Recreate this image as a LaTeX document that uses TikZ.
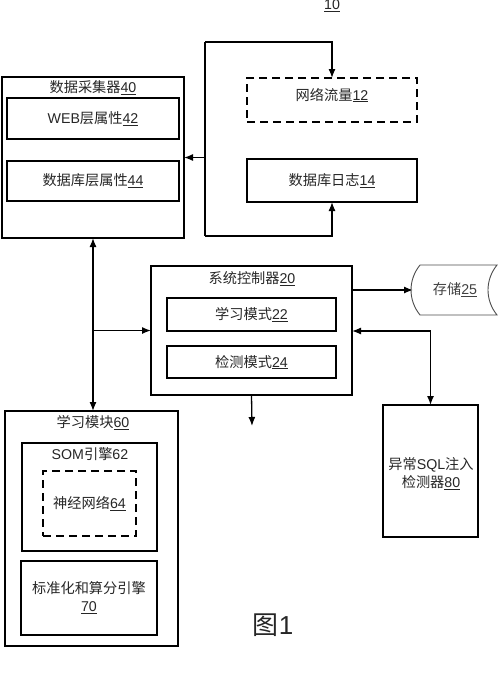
\documentclass[tikz,border=0pt]{standalone}
\usepackage{fontspec}
\setmainfont{Liberation Sans}
\newfontfamily\cjk{Noto Sans CJK SC}
\newcommand{\zh}[1]{{\cjk #1}}
\usetikzlibrary{arrows.meta}
\begin{document}
\begin{tikzpicture}[x=1pt,y=-1pt,
  every node/.style={inner sep=0pt,outer sep=0pt,text=black!85,font=\fontsize{14.2}{18}\selectfont},
  box/.style={draw,line width=1.3pt,rectangle},
  dbox/.style={box,dash pattern=on 8pt off 5pt},
  lbl/.style={align=center},
  conn/.style={line width=1.3pt},
  arr/.style={conn,-{Latex[length=9pt,width=7pt]}},
  darr/.style={conn,{Latex[length=9pt,width=7pt]}-{Latex[length=9pt,width=7pt]}}]
\useasboundingbox (0,0) rectangle (500,694);
% label 10
\node[lbl] (ten) at (332,6) {\underline{10}};
% data collector
\node[box,minimum width=182pt,minimum height=161pt] (dc) at (93,157.5) {};
\node[lbl] (dct) at (93,88) {\zh{数据采集器}\underline{40}};
\node[box,minimum width=172pt,minimum height=41pt] (a42) at (93,118.5) {WEB\zh{层属性}\underline{42}};
\node[box,minimum width=172pt,minimum height=40pt] (a44) at (93,181) {\zh{数据库层属性}\underline{44}};
% sources
\node[dbox,minimum width=170pt,minimum height=44pt] (nt12) at (332,100) {};
\node[lbl] (nt12t) at (332,95) {\zh{网络流量}\underline{12}};
\node[box,minimum width=170pt,minimum height=43pt] (db14) at (332,180.5) {\zh{数据库日志}\underline{14}};
\coordinate (lt) at (205,42);
\coordinate (lb) at (205,236);
\draw[conn] (lt) -- (lb);
\draw[arr] (lt) -| (nt12.north);
\draw[arr] (lb) -| (db14.south);
\draw[arr] (dc.east -| lt) -- (dc.east);
% system controller
\node[box,minimum width=201pt,minimum height=129pt] (sc20) at (251.5,330.5) {};
\node[lbl] (sct) at (252,279) {\zh{系统控制器}\underline{20}};
\node[box,minimum width=169pt,minimum height=33pt] (m22) at (251.5,314.5) {\zh{学习模式}\underline{22}};
\node[box,minimum width=169pt,minimum height=32pt] (m24) at (251.5,362) {\zh{检测模式}\underline{24}};
% storage
\draw[line width=0.9pt,black!70] (420,265) -- (497,265) .. controls (485,280) and (485,300) .. (497,315) -- (420,315) .. controls (408,300) and (408,280) .. (420,265);
\coordinate (storeL) at (413,290);
\node[lbl,text=black!75] (st25) at (455,290) {\zh{存储}\underline{25}};
\draw[arr] (sc20.east |- storeL) -- (storeL);
% detector
\node[box,minimum width=95pt,minimum height=132pt] (det80) at (430.5,471) {};
\node[lbl] (det80t) at (431,474) {\zh{异常}SQL\zh{注入}\\\zh{检测器}\underline{80}};
\draw[darr] (sc20.east |- m22.south) -| (det80.north);
% down arrow
\coordinate (dn) at (252,426);
\draw[arr] (sc20.south) -- (dn);
% learning module
\node[box,minimum width=173pt,minimum height=235pt] (lm60) at (91.5,528.5) {};
\node[lbl] (lmt) at (93,423) {\zh{学习模块}\underline{60}};
\node[box,minimum width=135pt,minimum height=108pt] (som62) at (89.5,497) {};
\node[lbl] (somt) at (90,454) {SOM\zh{引擎}62};
\node[dbox,minimum width=93pt,minimum height=65pt] (nn64) at (89.5,503.5) {\zh{神经网络}\underline{64}};
\node[box,minimum width=136pt,minimum height=74pt,lbl] (e70) at (89,598) {\zh{标准化和算分引擎}\\\underline{70}};
% connections
\draw[darr] (dc.south) -- (dc.south |- lm60.north);
\draw[arr] (dc.south |- sc20.west) -- (sc20.west);
% figure label
\node[lbl,font=\fontsize{26}{30}\selectfont] (fig) at (273,625) {\zh{图}1};
\end{tikzpicture}
\end{document}
